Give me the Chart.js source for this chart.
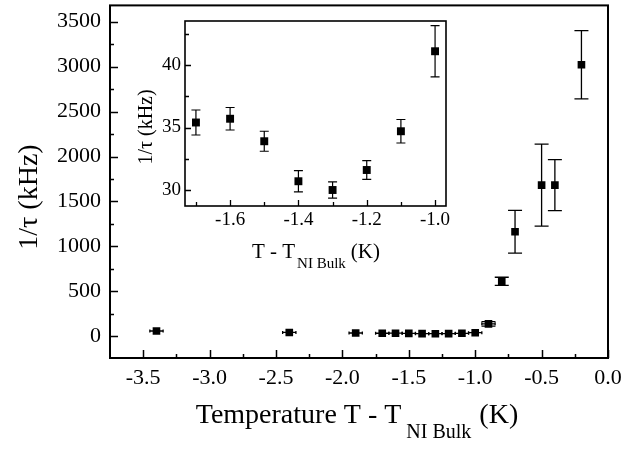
<!DOCTYPE html>
<html><head><meta charset="utf-8">
<script src="https://cdn.jsdelivr.net/npm/chart.js@4/dist/chart.umd.min.js"></script>
<style>
html,body{margin:0;padding:0;background:#fff;}
#wrap{position:relative;width:641px;height:449px;overflow:hidden;background:#fff;}
canvas{position:absolute;display:block;}
#main{left:0;top:0;width:641px;height:449px;}
#inset{left:125px;top:15px;width:330px;height:265px;}
</style></head><body>
<div id="wrap"><canvas id="main" width="641" height="449"></canvas><canvas id="inset" width="330" height="265"></canvas></div>
<script>
// ---- main plot data ----
const mainTemp    = [-3.4, -2.4, -1.9, -1.7, -1.6, -1.5, -1.4, -1.3, -1.2, -1.1, -1.0, -0.9, -0.8, -0.7, -0.5, -0.4, -0.2];
const mainRate    = [60, 44, 38, 35.4, 35.7, 33.9, 30.7, 30.0, 31.6, 34.7, 41.1, 140, 613, 1164, 1682, 1682, 3020];
const mainRateErr = [8, 8, 8, 1.0, 0.9, 0.8, 0.85, 0.65, 0.75, 0.94, 2.05, 25, 45, 237, 455, 283, 380];
const mainTempErr = [0.05, 0.05, 0.05, 0.05, 0.05, 0.05, 0.05, 0.05, 0.05, 0.05, 0.05, 0.05, 0, 0, 0, 0, 0];
const mainXTicks  = [-3.5, -3.0, -2.5, -2.0, -1.5, -1.0, -0.5, 0.0];
const mainXMinor  = [-3.25, -2.75, -2.25, -1.75, -1.25, -0.75, -0.25];
const mainYTicks  = [0, 500, 1000, 1500, 2000, 2500, 3000, 3500];
const mainYMinor  = [250, 750, 1250, 1750, 2250, 2750, 3250];
// ---- inset data ----
const insetTemp    = [-1.7, -1.6, -1.5, -1.4, -1.3, -1.2, -1.1, -1.0];
const insetRate    = [35.4, 35.7, 33.9, 30.7, 30.0, 31.6, 34.7, 41.1];
const insetRateErr = [1.0, 0.9, 0.8, 0.85, 0.65, 0.75, 0.94, 2.05];
const insetXTicks  = [-1.6, -1.4, -1.2, -1.0];
const insetXMinor  = [-1.7, -1.5, -1.3, -1.1];
const insetYTicks  = [30, 35, 40];
const insetYMinor  = [32.5, 37.5, 42.5];

const SERIF = "'Liberation Serif','Times New Roman',serif";
Chart.defaults.font.family = SERIF;
Chart.defaults.color = '#000';

function fixBox(size, isX) {
  return function (s) {
    if (isX) s.height = size; else s.width = size;
    s.paddingTop = 0; s.paddingBottom = 0; s.paddingLeft = 0; s.paddingRight = 0;
  };
}

function decoPlugin(cfg) {
  return {
    id: 'deco' + cfg.name,
    beforeDatasetsDraw(chart) {
      const ctx = chart.ctx, xs = chart.scales.x, ys = chart.scales.y;
      ctx.save();
      ctx.strokeStyle = '#000';
      ctx.lineWidth = cfg.errWidth;
      cfg.x.forEach((xv, i) => {
        const px = xs.getPixelForValue(xv);
        const py = ys.getPixelForValue(cfg.y[i]);
        const e = cfg.yErr[i];
        if (e) {
          const t = ys.getPixelForValue(cfg.y[i] + e), b = ys.getPixelForValue(cfg.y[i] - e);
          ctx.beginPath();
          ctx.moveTo(px, t); ctx.lineTo(px, b);
          if (b - t > 4) {
            ctx.moveTo(px - cfg.cap, t); ctx.lineTo(px + cfg.cap, t);
            ctx.moveTo(px - cfg.cap, b); ctx.lineTo(px + cfg.cap, b);
          }
          ctx.stroke();
        }
        const xe = cfg.xErr ? cfg.xErr[i] : 0;
        if (xe) {
          const l = xs.getPixelForValue(xv - xe), r = xs.getPixelForValue(xv + xe);
          ctx.beginPath();
          ctx.moveTo(l, py); ctx.lineTo(r, py);
          ctx.moveTo(l, py - 1.5); ctx.lineTo(l, py + 1.5);
          ctx.moveTo(r, py - 1.5); ctx.lineTo(r, py + 1.5);
          ctx.stroke();
        }
      });
      ctx.restore();
    },
    afterDraw(chart) {
      const ctx = chart.ctx, a = chart.chartArea, xs = chart.scales.x, ys = chart.scales.y;
      ctx.save();
      ctx.strokeStyle = '#000';
      ctx.lineWidth = cfg.tickWidth;
      ctx.beginPath();
      cfg.xMajor.forEach(v => { const p = Math.round(xs.getPixelForValue(v)) + 0.5; ctx.moveTo(p, a.bottom); ctx.lineTo(p, a.bottom - cfg.major); });
      cfg.xMinor.forEach(v => { const p = Math.round(xs.getPixelForValue(v)) + 0.5; ctx.moveTo(p, a.bottom); ctx.lineTo(p, a.bottom - cfg.minor); });
      cfg.yMajor.forEach(v => { const p = Math.round(ys.getPixelForValue(v)) + 0.5; ctx.moveTo(a.left, p); ctx.lineTo(a.left + cfg.major, p); });
      cfg.yMinor.forEach(v => { const p = Math.round(ys.getPixelForValue(v)) + 0.5; ctx.moveTo(a.left, p); ctx.lineTo(a.left + cfg.minor, p); });
      ctx.stroke();
      ctx.lineWidth = cfg.borderWidth;
      ctx.strokeRect(a.left, a.top, a.right - a.left, a.bottom - a.top);
      // x title with subscript
      const t = cfg.xTitle;
      ctx.fillStyle = '#000';
      ctx.textBaseline = 'alphabetic';
      ctx.textAlign = 'left';
      ctx.font = t.size + 'px ' + SERIF;
      const w1 = ctx.measureText(t.main).width;
      const w3 = ctx.measureText(t.unit).width;
      ctx.font = t.subSize + 'px ' + SERIF;
      const w2 = ctx.measureText(t.sub).width;
      const total = w1 + t.gap1 + w2 + t.gap2 + w3;
      let x0 = t.cx - cfg.ox - total / 2;
      const by = t.base - cfg.oy;
      ctx.font = t.size + 'px ' + SERIF;
      ctx.fillText(t.main, x0, by);
      ctx.font = t.subSize + 'px ' + SERIF;
      ctx.fillText(t.sub, x0 + w1 + t.gap1, by + t.subDrop);
      ctx.font = t.size + 'px ' + SERIF;
      ctx.fillText(t.unit, x0 + w1 + t.gap1 + w2 + t.gap2, by);
      // y title
      const yt = cfg.yTitle;
      ctx.save();
      ctx.translate(yt.cx - cfg.ox, yt.cy - cfg.oy);
      ctx.rotate(-Math.PI / 2);
      ctx.font = yt.size + 'px ' + SERIF;
      ctx.textAlign = 'center';
      ctx.textBaseline = 'middle';
      ctx.fillText(yt.text, 0, 0);
      ctx.restore();
      ctx.restore();
    }
  };
}

new Chart(document.getElementById('main'), {
  type: 'scatter',
  data: { datasets: [{
    data: mainTemp.map((t, i) => ({ x: t, y: mainRate[i] })),
    pointStyle: 'rect', pointRadius: 5.4, pointBackgroundColor: '#000', pointBorderWidth: 0, showLine: false
  }] },
  options: {
    responsive: false, animation: false, devicePixelRatio: 1,
    layout: { padding: { left: 0, top: 5, right: 33, bottom: 0 } },
    plugins: { legend: { display: false }, tooltip: { enabled: false } },
    scales: {
      x: {
        type: 'linear', min: -3.75, max: 0,
        afterBuildTicks: s => { s.ticks = mainXTicks.map(v => ({ value: v })); },
        afterFit: fixBox(91, true),
        grid: { display: false, drawTicks: false }, border: { display: false },
        ticks: { padding: 7, font: { size: 22 }, maxRotation: 0, autoSkip: false, callback: v => Number(v).toFixed(1) }
      },
      y: {
        type: 'linear', min: -240, max: 3680,
        afterBuildTicks: s => { s.ticks = mainYTicks.map(v => ({ value: v })); },
        afterFit: fixBox(110, false),
        grid: { display: false, drawTicks: false }, border: { display: false },
        ticks: { padding: 9, font: { size: 22 }, autoSkip: false, callback: v => String(v) }
      }
    }
  },
  plugins: [decoPlugin({
    name: 'main', ox: 0, oy: 0,
    x: mainTemp, y: mainRate, yErr: mainRateErr, xErr: mainTempErr,
    errWidth: 1.3, cap: 7, tickWidth: 1.5, borderWidth: 2, major: 8, minor: 4,
    xMajor: mainXTicks, xMinor: mainXMinor, yMajor: mainYTicks, yMinor: mainYMinor,
    xTitle: { main: 'Temperature T - T', sub: 'NI Bulk', unit: '(K)', size: 28, subSize: 20, gap1: 5, gap2: 8, cx: 357, base: 423, subDrop: 15 },
    yTitle: { text: '1/\u03C4 (kHz)', size: 28, cx: 30, cy: 197 }
  })]
});

new Chart(document.getElementById('inset'), {
  type: 'scatter',
  data: { datasets: [{
    data: insetTemp.map((t, i) => ({ x: t, y: insetRate[i] })),
    pointStyle: 'rect', pointRadius: 5.6, pointBackgroundColor: '#000', pointBorderWidth: 0, showLine: false
  }] },
  options: {
    responsive: false, animation: false, devicePixelRatio: 1,
    layout: { padding: { left: 0, top: 6, right: 9, bottom: 0 } },
    plugins: { legend: { display: false }, tooltip: { enabled: false } },
    scales: {
      x: {
        type: 'linear', min: -1.732, max: -0.968,
        afterBuildTicks: s => { s.ticks = insetXTicks.map(v => ({ value: v })); },
        afterFit: fixBox(74, true),
        grid: { display: false, drawTicks: false }, border: { display: false },
        ticks: { padding: 3, font: { size: 19 }, maxRotation: 0, autoSkip: false, callback: v => Number(v).toFixed(1) }
      },
      y: {
        type: 'linear', min: 28.72, max: 43.52,
        afterBuildTicks: s => { s.ticks = insetYTicks.map(v => ({ value: v })); },
        afterFit: fixBox(60, false),
        grid: { display: false, drawTicks: false }, border: { display: false },
        ticks: { padding: 4, font: { size: 19 }, autoSkip: false, callback: v => String(v) }
      }
    }
  },
  plugins: [decoPlugin({
    name: 'inset', ox: 125, oy: 15,
    x: insetTemp, y: insetRate, yErr: insetRateErr, xErr: null,
    errWidth: 1.2, cap: 4.5, tickWidth: 1.3, borderWidth: 1.6, major: 6, minor: 4,
    xMajor: insetXTicks, xMinor: insetXMinor, yMajor: insetYTicks, yMinor: insetYMinor,
    xTitle: { main: 'T - T', sub: 'NI Bulk', unit: '(K)', size: 21, subSize: 15, gap1: 2, gap2: 5, cx: 316, base: 258, subDrop: 10 },
    yTitle: { text: '1/\u03C4 (kHz)', size: 20, cx: 147, cy: 127 }
  })]
});
</script>
</body></html>
